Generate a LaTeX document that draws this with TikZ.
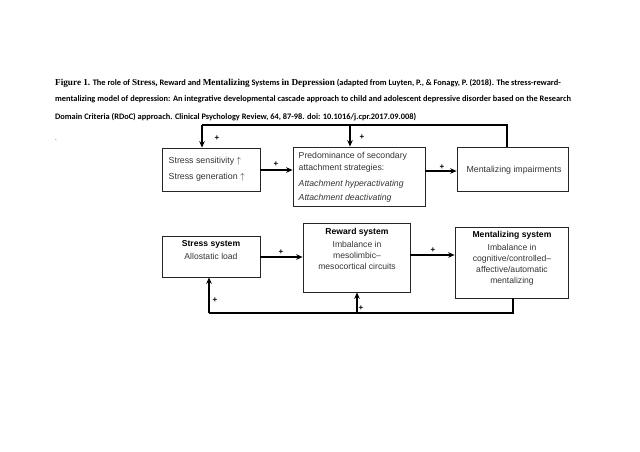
\documentclass[tikz,border=0pt]{standalone}
\usepackage{fontspec}
\setmainfont{Liberation Sans}
\newfontfamily\capfont{Carlito}
\newfontfamily\serfont{Liberation Serif}
\usetikzlibrary{arrows.meta}
\definecolor{txtgray}{HTML}{333333}
\tikzset{
  box/.style={draw=black!85, line width=0.7pt, rectangle, inner sep=0pt},
  arr/.style={line width=1.6pt, -{Stealth[length=6.5pt,width=5.5pt]}},
  conn/.style={line width=1.6pt},
  plus/.style={font=\fontsize{8}{8}\selectfont\bfseries, inner sep=0pt},
  captxt/.style={anchor=base west, inner sep=0pt, font=\capfont\bfseries\fontsize{8.35}{9}\selectfont},
  btxt/.style={font=\fontsize{8.6}{11}\selectfont, text=txtgray, inner sep=0pt},
}
\newcommand{\serw}[1]{{\serfont\fontsize{9.2}{10}\selectfont #1}}
\begin{document}
\begin{tikzpicture}[x=1pt,y=-1pt]
\useasboundingbox (0,0) rectangle (640,452);
% caption
\node[captxt] (cap1) at (55,85) {\serw{Figure 1.} The role of \serw{Stress,} Reward and \serw{Mentalizing} Systems \serw{in Depression} (adapted from Luyten, P., \& Fonagy, P. (2018). The stress-reward-};
\node[captxt] (cap2) at (55,102) {mentalizing model of depression: An integrative developmental cascade approach to child and adolescent depressive disorder based on the Research};
\node[captxt] (cap3) at (55,119) {Domain Criteria (RDoC) approach. Clinical Psychology Review, 64, 87-98. doi: 10.1016/j.cpr.2017.09.008)};
\node[inner sep=0pt, font=\capfont\fontsize{5}{6}\selectfont] (dot) at (56,140.5) {-};
% top row boxes
\node[box, minimum width=98pt, minimum height=43pt] (b1) at (211,169.5) {};
\node[box, minimum width=132pt, minimum height=59pt] (b2) at (359,176.5) {};
\node[box, minimum width=111pt, minimum height=44pt] (b3) at (512.5,169) {};
\node[btxt, anchor=west, align=left, font=\fontsize{8.8}{16}\selectfont] (t1) at (168.5,169) {Stress sensitivity $\uparrow$\\Stress generation $\uparrow$};
\node[btxt, anchor=west, align=left, font=\fontsize{8.7}{12.5}\selectfont] (t2) at (298.5,177) {Predominance of secondary\\attachment strategies:\\[3pt]\textit{Attachment hyperactivating}\\[2pt]\textit{Attachment deactivating}};
\node[btxt, font=\fontsize{8.8}{11}\selectfont] (t3) at (514,170) {Mentalizing impairments};
% bottom row boxes
\node[box, minimum width=98pt, minimum height=41pt] (sa) at (211,256.5) {};
\node[box, minimum width=107pt, minimum height=69pt] (sb) at (356.5,257.5) {};
\node[box, minimum width=113pt, minimum height=71pt] (sc) at (511.5,262.5) {};
\node[btxt, anchor=north, align=center] (ta) at (211,240.5) {\textcolor{black}{\textbf{Stress system}}\\[1.5pt]Allostatic load};
\node[btxt, anchor=north, align=center] (tb) at (357,228.5) {\textcolor{black}{\textbf{Reward system}}\\[1.5pt]Imbalance in\\mesolimbic--\\mesocortical circuits};
\node[btxt, anchor=north, align=center] (tc) at (512,231.5) {\textcolor{black}{\textbf{Mentalizing system}}\\[1.5pt]Imbalance in\\cognitive/controlled--\\affective/automatic\\mentalizing};
% top connectors
\coordinate (tr) at (507,125);
\coordinate (tl) at (202,125);
\coordinate (tm) at (350,125);
\draw[conn] (b3.north -| tr) -- (tr) -- (tl);
\draw[arr] (tl) -- (tl |- b1.north);
\draw[arr] (tm) -- (tm |- b2.north);
\coordinate (h1) at (0,170);
\coordinate (h2) at (0,171);
\draw[arr] (b1.east |- h1) -- (b2.west |- h1);
\draw[arr] (b2.east |- h2) -- (b3.west |- h2);
% bottom connectors
\coordinate (br) at (513,313);
\coordinate (bl) at (209,313);
\coordinate (bm) at (357,313);
\draw[conn] (sc.south -| br) -- (br) -- (bl);
\draw[arr] (bl) -- (bl |- sa.south);
\draw[arr] (bm) -- (bm |- sb.south);
\coordinate (h3) at (0,257);
\coordinate (h4) at (0,255);
\draw[arr] (sa.east |- h3) -- (sb.west |- h3);
\draw[arr] (sb.east |- h4) -- (sc.west |- h4);
% plus labels
\node[plus] (p1) at (217,138) {+};
\node[plus] (p2) at (362,137) {+};
\node[plus] (p3) at (276,164) {+};
\node[plus] (p4) at (442,167) {+};
\node[plus] (p5) at (215,300) {+};
\node[plus] (p6) at (361,308) {+};
\node[plus] (p7) at (281,252) {+};
\node[plus] (p8) at (433,250) {+};
\end{tikzpicture}
\end{document}
